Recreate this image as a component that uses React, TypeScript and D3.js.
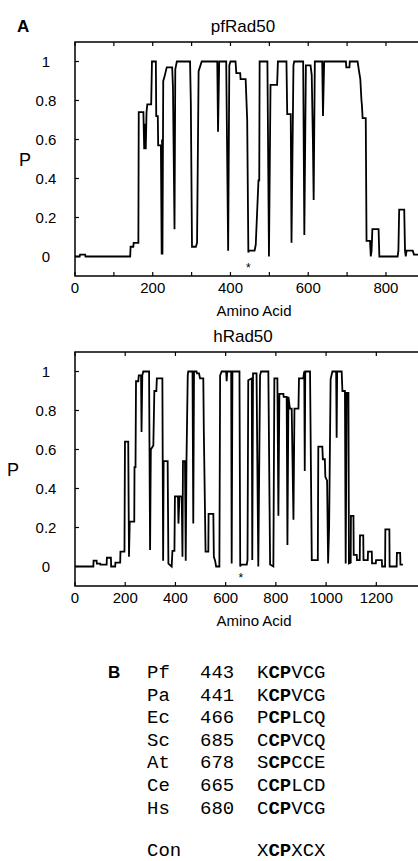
import React from 'react';
import * as d3 from 'd3';

// pfRad50 profile: residue number / probability
const pfResidue = [0, 12, 13, 26, 27, 142, 143, 150, 151, 163, 164, 176, 178, 180, 182, 184, 186, 196, 198, 208, 209, 213, 214, 221, 223, 224, 225, 227, 230, 236, 250, 252, 256, 258, 262, 296, 298, 301, 311, 314, 318, 326, 366, 368, 371, 389, 394, 397, 400, 413, 415, 425, 426, 439, 443, 446, 447, 462, 465, 472, 474, 475, 495, 499, 503, 520, 522, 544, 546, 555, 557, 562, 564, 587, 590, 594, 606, 609, 612, 614, 617, 636, 638, 641, 697, 698, 706, 707, 727, 730, 734, 737, 738, 740, 748, 750, 759, 761, 763, 765, 781, 783, 830, 832, 834, 847, 849, 851, 853, 869, 872, 885];
const pfProb = [0, 0, 0.01, 0.01, 0, 0, 0.05, 0.05, 0.07, 0.07, 0.74, 0.74, 0.55, 0.68, 0.55, 0.74, 0.78, 0.78, 1, 1, 0.72, 0.72, 0.57, 0.57, 0.01, 0.6, 0.01, 0.9, 0.92, 0.97, 0.97, 0.87, 0.14, 0.96, 1, 1, 0.79, 0.05, 0.05, 0.07, 0.95, 1, 1, 0.64, 1, 1, 0.03, 0.98, 1, 1, 0.94, 0.94, 0.91, 0.91, 0.7, 0.02, 0.03, 0.03, 0.06, 0.39, 0.39, 1, 1, 0, 0.88, 0.88, 1, 1, 0.73, 0.73, 0.07, 0.98, 1, 1, 0.11, 0.98, 0.98, 0.93, 0.6, 0.29, 1, 1, 0.72, 1, 1, 0.97, 0.97, 1, 1, 0.96, 0.91, 0.8, 0.78, 0.71, 0.71, 0.08, 0.08, 0, 0.03, 0.14, 0.14, 0, 0, 0.03, 0.24, 0.24, 0.03, 0, 0.03, 0.03, 0.01, 0.01];

// hRad50 profile
const hResidue = [0, 73, 74, 86, 87, 100, 101, 126, 127, 143, 144, 160, 161, 180, 181, 197, 199, 212, 215, 218, 236, 237, 241, 243, 252, 254, 263, 265, 268, 272, 295, 299, 302, 312, 316, 324, 326, 348, 351, 353, 369, 372, 385, 388, 396, 398, 410, 412, 416, 425, 428, 430, 438, 441, 444, 449, 451, 468, 471, 474, 484, 486, 494, 498, 511, 513, 520, 531, 532, 551, 553, 558, 562, 575, 578, 584, 602, 604, 606, 622, 624, 627, 655, 658, 661, 684, 687, 690, 704, 706, 709, 723, 730, 737, 741, 770, 777, 790, 794, 806, 810, 814, 830, 831, 843, 846, 850, 856, 863, 870, 874, 890, 892, 909, 913, 915, 917, 936, 943, 949, 967, 969, 985, 987, 995, 997, 1004, 1008, 1012, 1018, 1025, 1040, 1042, 1044, 1062, 1065, 1075, 1078, 1082, 1089, 1091, 1098, 1099, 1109, 1110, 1122, 1123, 1134, 1135, 1148, 1149, 1166, 1167, 1182, 1183, 1198, 1199, 1222, 1223, 1235, 1236, 1252, 1253, 1281, 1282, 1295, 1296, 1306];
const hProb = [0, 0, 0.03, 0.03, 0.015, 0.015, 0.01, 0.01, 0.045, 0.045, 0, 0, 0.02, 0.02, 0.076, 0.076, 0.64, 0.64, 0.05, 0.23, 0.23, 0.51, 0.51, 0.95, 0.95, 0.98, 0.98, 0.69, 0.98, 1, 1, 0.085, 0.6, 0.62, 0.9, 0.9, 0.965, 0.965, 0.03, 0.54, 0.54, 0.015, 0, 0.08, 0.08, 0.36, 0.36, 0.22, 0.36, 0.36, 0.05, 0.54, 0.54, 0.03, 0.54, 0.98, 1, 1, 0.22, 1, 1, 0.99, 0.99, 0.965, 0.965, 0.7, 0.076, 0.076, 0.27, 0.27, 0.05, 0.03, 0, 0, 0.98, 1, 1, 0.95, 1, 1, 0.016, 1, 1, 0, 0.01, 0.01, 0.033, 0.955, 0.965, 0.033, 0.99, 0.99, 0, 0.98, 1, 1, 0.01, 0, 0.965, 0.965, 0.26, 0.885, 0.885, 0.87, 0.87, 0.11, 0.87, 0.81, 0.81, 0.24, 0.81, 0.81, 0.965, 0.965, 1, 0.49, 1, 1, 0.033, 0.033, 0.033, 0.615, 0.615, 0.55, 0.55, 0.46, 0.44, 0.016, 0.2, 0.96, 1, 1, 0.66, 1, 1, 0.9, 0.9, 0.016, 0.89, 0.89, 0.016, 0.02, 0.26, 0.26, 0.06, 0.06, 0.033, 0.033, 0.16, 0.16, 0.033, 0.033, 0.076, 0.076, 0.016, 0.016, 0.033, 0.033, 0, 0, 0.19, 0.19, 0, 0, 0.07, 0.07, 0.01, 0.01];

const yTicks = [0, 0.2, 0.4, 0.6, 0.8, 1];
const yTickLabels = ['0', '0.2', '0.4', '0.6', '0.8', '1'];
const pfStar = 446;
const hStar = 660;

// panel B alignment
const species = ['Pf', 'Pa', 'Ec', 'Sc', 'At', 'Ce', 'Hs'];
const positions = ['443', '441', '466', '685', '678', '665', '680'];
const motifs = ['KCPVCG', 'KCPVCG', 'PCPLCQ', 'CCPVCQ', 'SCPCCE', 'CCPLCD', 'CCPVCG'];
const consensus = 'XCPXCX';

const SANS = '"Liberation Sans", Arial, Helvetica, sans-serif';
const MONO = '"Liberation Mono", "Courier New", monospace';

function Profile({ residue, prob, maxX, majorStep, labelStep, top, title, star, pX }: any) {
  const left = 75, right = 419, bottom = top + 234;
  const x = d3.scaleLinear().domain([0, maxX]).range([left, right]);
  const y = d3.scaleLinear().domain([-0.1, 1.1]).range([bottom, top]);
  const pts = residue.map((r: number, i: number) => [r, prob[i]] as [number, number]);
  const path = d3.line<[number, number]>().x(d => x(d[0])).y(d => y(d[1]))(pts) || '';
  const xt = d3.range(0, maxX, majorStep);
  return (
    <g>
      <text x={243} y={top - 10} fontFamily={SANS} fontSize={17} textAnchor="middle">{title}</text>
      <rect x={left} y={top} width={right - left} height={bottom - top} fill="none" stroke="#000" strokeWidth={1.5} />
      {xt.map(t => (
        <g key={t}>
          <line x1={x(t)} x2={x(t)} y1={top} y2={top + 4} stroke="#000" strokeWidth={1.2} />
          <line x1={x(t)} x2={x(t)} y1={bottom} y2={bottom - 4} stroke="#000" strokeWidth={1.2} />
          {t % labelStep === 0 && (
            <text x={x(t)} y={bottom + 17} fontFamily={SANS} fontSize={15} textAnchor="middle">{t}</text>
          )}
        </g>
      ))}
      {yTicks.map((t, i) => (
        <g key={t}>
          <line x1={left} x2={left + 4} y1={y(t)} y2={y(t)} stroke="#000" strokeWidth={1.2} />
          <text x={46} y={y(t) + 5.5} fontFamily={SANS} fontSize={15} textAnchor="middle">{yTickLabels[i]}</text>
        </g>
      ))}
      <text x={pX} y={y(0.5) + 7} fontFamily={SANS} fontSize={18} textAnchor="middle">P</text>
      <path d={path} fill="none" stroke="#000" strokeWidth={1.8} strokeLinejoin="miter" />
      <text x={x(star)} y={y(-0.04) + 8} fontFamily={SANS} fontSize={12} textAnchor="middle">*</text>
      <text x={254} y={bottom + 40} fontFamily={SANS} fontSize={15} textAnchor="middle">Amino Acid</text>
    </g>
  );
}

function Motif({ seq, x, y }: { seq: string; x: number; y: number }) {
  return (
    <text x={x} y={y} fontFamily={MONO} fontSize={19}>
      {seq.split('').map((c, i) => (
        <tspan key={i} fontWeight={i === 1 || i === 2 ? 'bold' : 'normal'}>{c}</tspan>
      ))}
    </text>
  );
}

export default function App() {
  const rowY = (i: number) => 678 + i * 22.6;
  return (
    <svg width={418} height={861} style={{ position: 'absolute', left: 0, top: 0, background: '#fff' }}>
      <text x={17} y={32} fontFamily={SANS} fontSize={17} fontWeight="bold">A</text>
      <Profile residue={pfResidue} prob={pfProb} maxX={885} majorStep={100} labelStep={200} top={42} title="pfRad50" star={pfStar} pX={25} />
      <Profile residue={hResidue} prob={hProb} maxX={1370} majorStep={200} labelStep={200} top={352} title="hRad50" star={hStar} pX={13} />
      <text x={108} y={678} fontFamily={SANS} fontSize={17} fontWeight="bold">B</text>
      {species.map((s, i) => (
        <g key={s}>
          <text x={147} y={rowY(i)} fontFamily={MONO} fontSize={19}>{s}</text>
          <text x={200} y={rowY(i)} fontFamily={MONO} fontSize={19}>{positions[i]}</text>
          <Motif seq={motifs[i]} x={257} y={rowY(i)} />
        </g>
      ))}
      <text x={147} y={856} fontFamily={MONO} fontSize={19}>Con</text>
      <Motif seq={consensus} x={257} y={856} />
    </svg>
  );
}
